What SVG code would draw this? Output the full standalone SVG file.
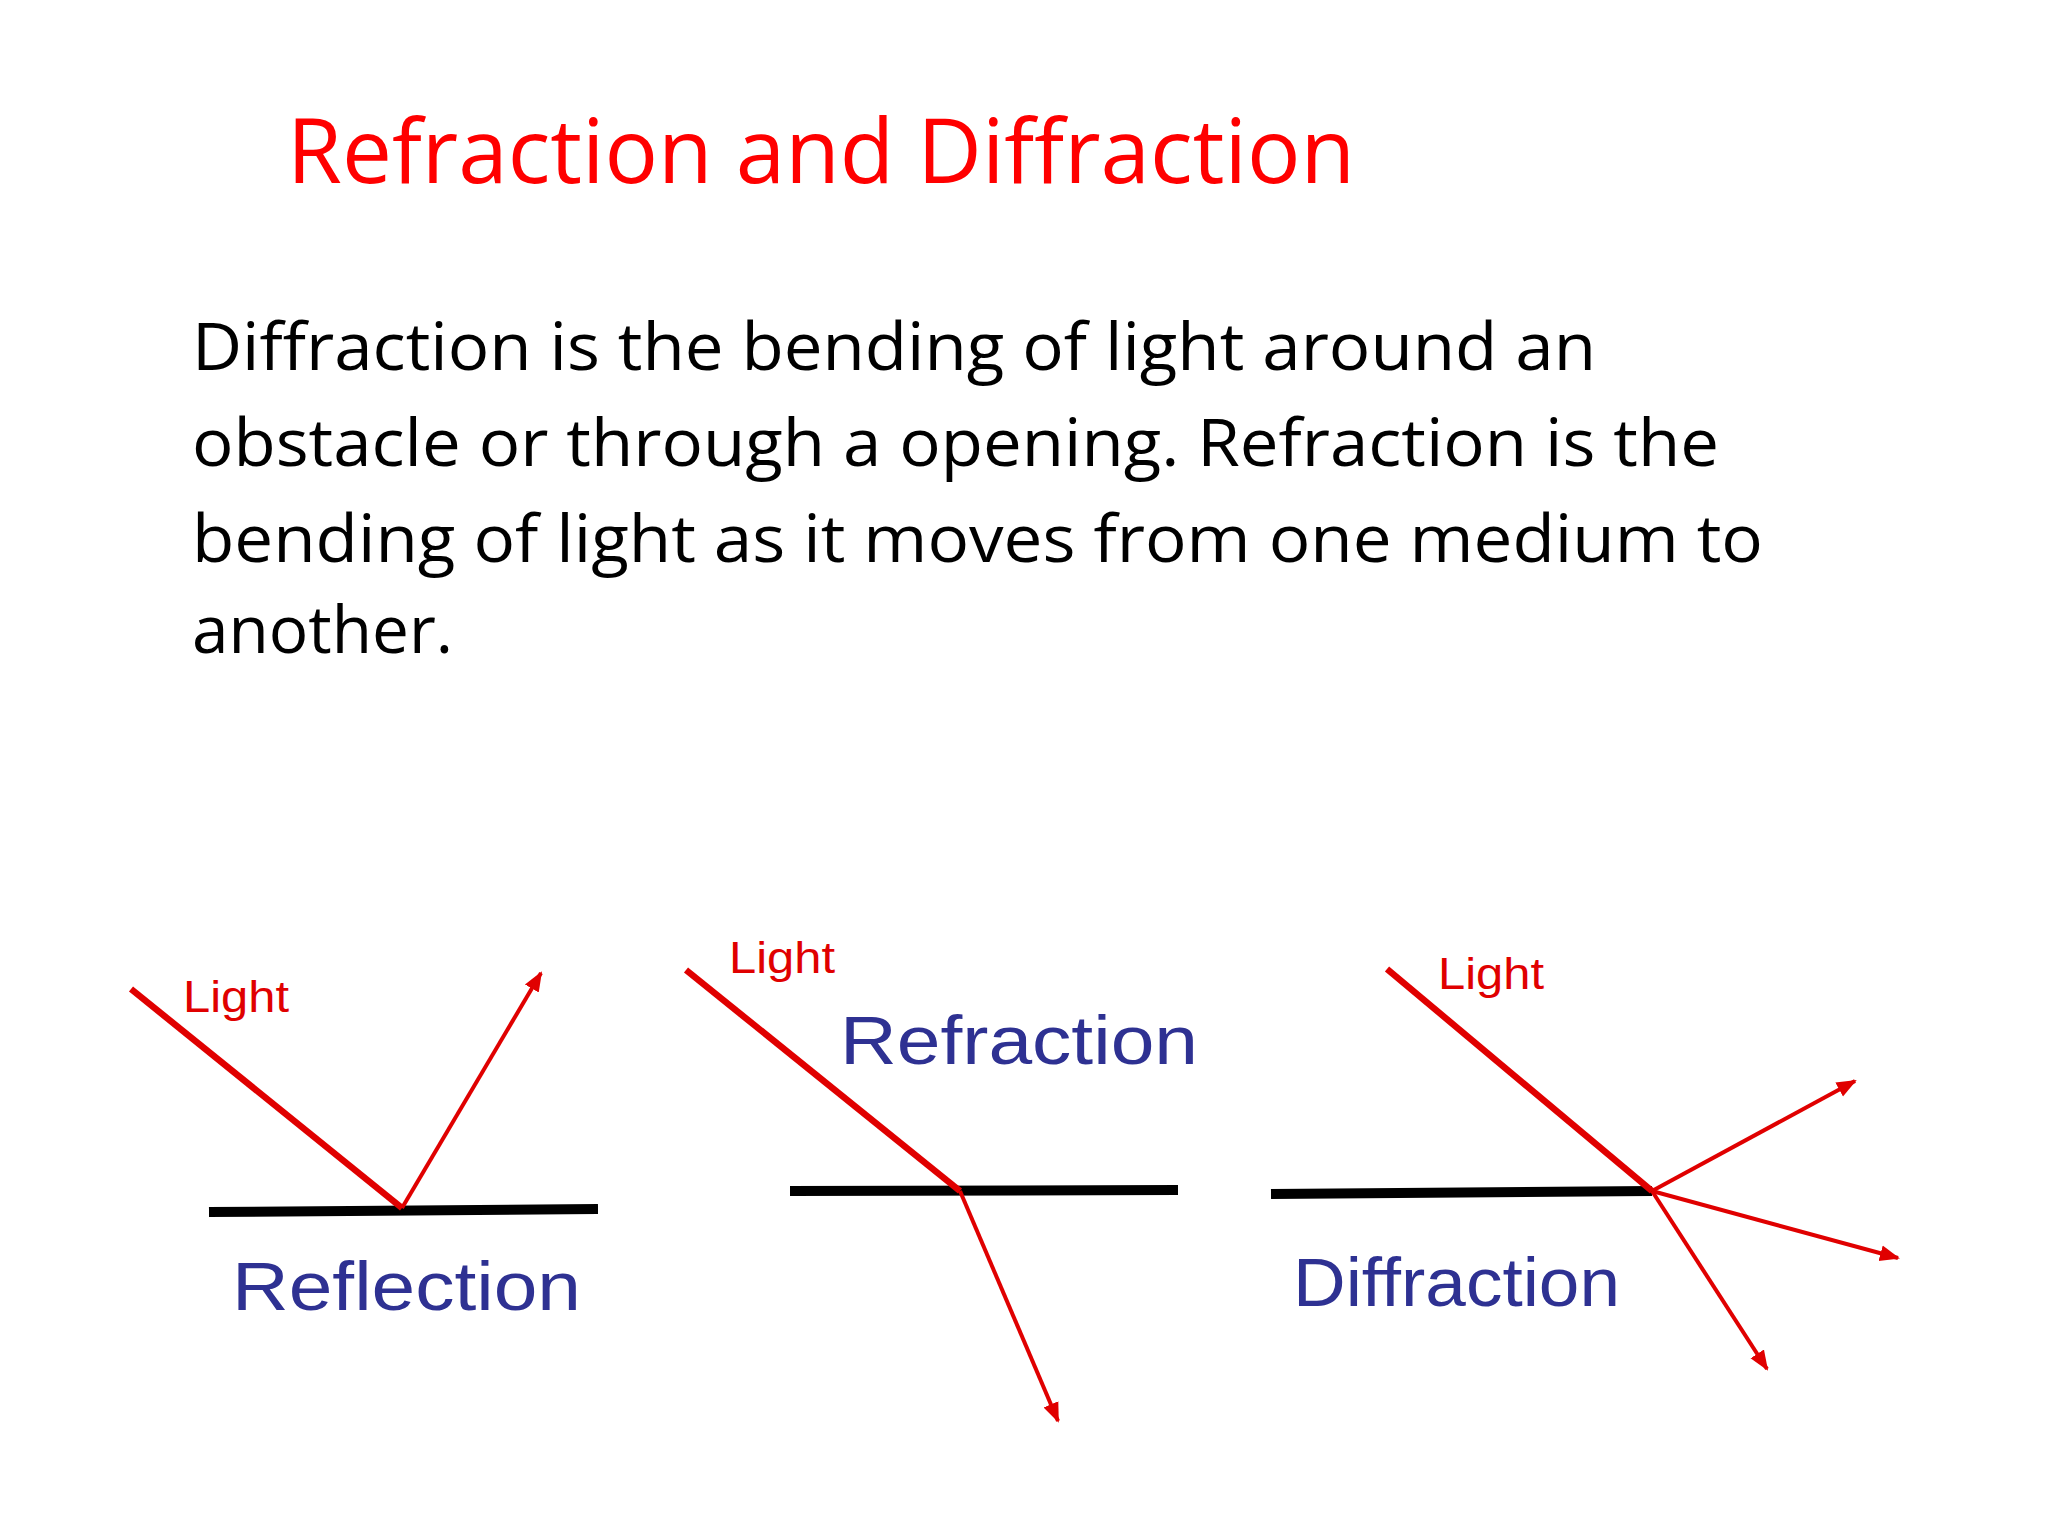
<svg xmlns="http://www.w3.org/2000/svg" width="2048" height="1536" viewBox="0 0 2048 1536">
<style>
.t{font-family:"Open Sans","Liberation Sans",sans-serif}
.lt{font-family:"Liberation Sans",Arial,sans-serif;fill:#e00000;font-size:44px}
.lb{font-family:"Liberation Sans",Arial,sans-serif;fill:#2e3192;font-size:68px}
.ray{stroke:#e00000;stroke-width:6.5;fill:none}
.out{stroke:#e00000;stroke-width:4;fill:none;marker-end:url(#ah)}
.surf{stroke:#000;stroke-width:10}
</style>
<defs>
<marker id="ah" viewBox="0 0 10 10" refX="9" refY="5" markerWidth="5" markerHeight="5" orient="auto" markerUnits="strokeWidth"><path d="M0,1 L10,5 L0,9 Z" fill="#e00000"/></marker>
</defs>
<rect width="2048" height="1536" fill="#fff"/>
<text class="t" x="287" y="183" font-size="89" fill="#ff0000" textLength="1068" lengthAdjust="spacingAndGlyphs">Refraction and Diffraction</text>
<g class="t" font-size="65" fill="#000">
<text x="192" y="370" textLength="1404" lengthAdjust="spacingAndGlyphs">Diffraction is the bending of light around an</text>
<text x="192" y="466" textLength="1527" lengthAdjust="spacingAndGlyphs">obstacle or through a opening. Refraction is the</text>
<text x="192" y="562" textLength="1571" lengthAdjust="spacingAndGlyphs">bending of light as it moves from one medium to</text>
<text x="192" y="653" textLength="261" lengthAdjust="spacingAndGlyphs">another.</text>
</g>
<g id="reflection">
<line class="surf" x1="209" y1="1212" x2="598" y2="1209"/>
<text class="lt" x="183" y="1012" textLength="106" lengthAdjust="spacingAndGlyphs">Light</text>
<text class="lb" x="232" y="1310" textLength="349" lengthAdjust="spacingAndGlyphs">Reflection</text>
</g>
<g id="refraction">
<line class="surf" x1="790" y1="1191" x2="1178" y2="1190"/>
<text class="lt" x="729" y="973" textLength="106" lengthAdjust="spacingAndGlyphs">Light</text>
<text class="lb" x="840" y="1064" textLength="358" lengthAdjust="spacingAndGlyphs">Refraction</text>
</g>
<g id="diffraction">
<line class="surf" x1="1271" y1="1194" x2="1652" y2="1191"/>
<text class="lt" x="1438" y="989" textLength="106" lengthAdjust="spacingAndGlyphs">Light</text>
<text class="lb" x="1293" y="1306" textLength="327" lengthAdjust="spacingAndGlyphs">Diffraction</text>
</g>
<g id="connectors">
<line class="ray" x1="131" y1="989" x2="402" y2="1208"/>
<line class="out" x1="402" y1="1208" x2="541" y2="973"/>
<line class="ray" x1="686" y1="970" x2="960" y2="1191"/>
<line class="out" x1="960" y1="1191" x2="1058" y2="1421"/>
<line class="ray" x1="1387" y1="969" x2="1652" y2="1191"/>
<line class="out" x1="1652" y1="1191" x2="1855" y2="1081"/>
<line class="out" x1="1652" y1="1191" x2="1898" y2="1258"/>
<line class="out" x1="1652" y1="1191" x2="1767" y2="1369"/>
</g>
</svg>
